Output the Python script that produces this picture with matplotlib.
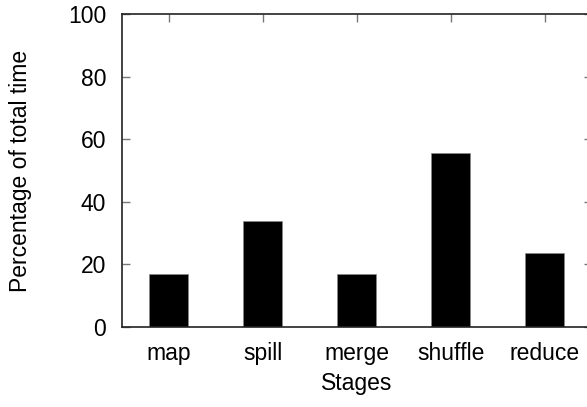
import matplotlib
matplotlib.use("Agg")
import matplotlib.pyplot as plt

stages = ["map", "spill", "merge", "shuffle", "reduce"]
pct_time = [17, 34, 17, 55.5, 23.7]

plt.rcParams['font.family'] = ['Liberation Sans', 'DejaVu Sans']
FS = 16.5

fig = plt.figure(figsize=(5.87, 4.07), dpi=100)
ax = fig.add_axes([0.2078, 0.1966, 0.8007, 0.769])

x = list(range(len(stages)))
ax.bar(x, pct_time, width=0.415, color="black", edgecolor="#888888", linewidth=0.5)

ax.set_xlim(-0.5, 4.5)
ax.set_ylim(0, 100)
ax.set_xticks(x)
ax.set_xticklabels(stages)
ax.set_yticks([0, 20, 40, 60, 80, 100])

ax.tick_params(direction="in", length=6, width=1, color="#777777",
               top=True, right=True, bottom=False, labelsize=FS)
ax.tick_params(axis="y", pad=11.5)
ax.tick_params(axis="x", pad=11)
for sp in ax.spines.values():
    sp.set_linewidth(1.2)
    sp.set_color("#222222")

ax.set_xlabel("Stages", fontsize=FS)
ax.set_ylabel("Percentage of total time", fontsize=FS)
ax.xaxis.set_label_coords(0.5, -0.143)
ax.yaxis.set_label_coords(-0.192, 0.5)

fig.savefig("out.png", dpi=100)
